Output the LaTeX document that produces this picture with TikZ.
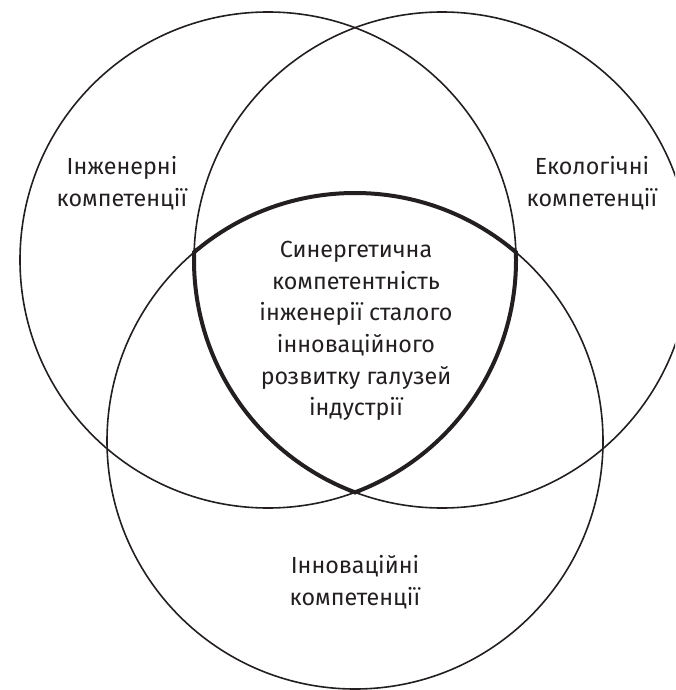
\documentclass[tikz,border=0pt]{standalone}
\usepackage{fontspec}
\setmainfont{Fira Sans}
\definecolor{ink}{HTML}{231F20}
\begin{document}
\begin{tikzpicture}[x=1pt,y=-1pt,
  ring/.style={draw=ink,line width=1.6pt},
  core/.style={draw=ink,line width=4pt},
  label/.style={text=ink,align=center,inner sep=0pt,
    font=\fontsize{23.3}{31.7}\selectfont}]
  \clip (0,0) rectangle (675,690);
  % circle centres
  \coordinate (cl) at (268,260);
  \coordinate (cr) at (442,260);
  \coordinate (cb) at (355,441);
  % three overlapping circles
  \draw[ring] (cl) circle (248pt);
  \draw[ring] (cr) circle (248pt);
  \draw[ring] (cb) circle (248pt);
  % bold outline of the common region
  \begin{scope}
    \clip (cl) circle (250pt);
    \clip (cr) circle (250pt);
    \draw[core] (cb) circle (248pt);
  \end{scope}
  \begin{scope}
    \clip (cl) circle (250pt);
    \clip (cb) circle (250pt);
    \draw[core] (cr) circle (248pt);
  \end{scope}
  \begin{scope}
    \clip (cr) circle (250pt);
    \clip (cb) circle (250pt);
    \draw[core] (cl) circle (248pt);
  \end{scope}
  % labels
  \node[label] (eng) at (122,183) {Інженерні\\компетенції};
  \node[label] (eco) at (592,183) {Екологічні\\компетенції};
  \node[label] (inn) at (355,582) {Інноваційні\\компетенції};
  \node[label] (syn) at (356,331) {Синергетична\\компетентність\\інженерії сталого\\інноваційного\\розвитку галузей\\індустрії};
\end{tikzpicture}
\end{document}
